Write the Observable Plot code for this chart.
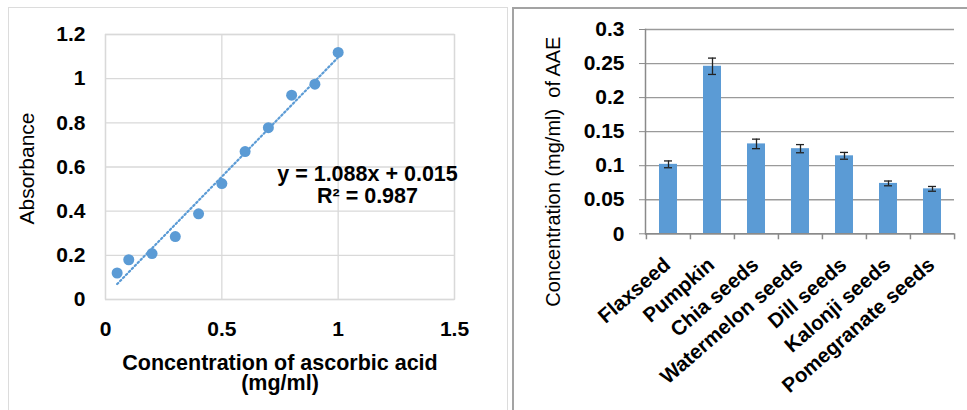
<!DOCTYPE html>
<html>
<head>
<meta charset="utf-8">
<script src="https://cdn.jsdelivr.net/npm/d3@7"></script>
<script src="https://cdn.jsdelivr.net/npm/@observablehq/plot@0.6"></script>
<style>
  html, body { margin: 0; padding: 0; background: #fff; }
  body { width: 967px; height: 410px; position: relative; overflow: hidden; font-family: "Liberation Sans", Arial, sans-serif; }
  .panel { position: absolute; box-sizing: border-box; }
  #leftBox { left: 8px; top: 7px; width: 500px; height: 420px; border: 1px solid #dcdcdc; border-bottom: none; }
  #rightBox { left: 512px; top: 7px; width: 470px; height: 420px; border-left: 2px solid #a3a3a3; border-top: 2px solid #a3a3a3; }
  #left, #right { position: absolute; top: 0; }
  #left { left: 0; }
  #right { left: 513px; }
  svg g[aria-label="x-axis tick label"] text, svg g[aria-label="y-axis tick label"] text { font-weight: bold; }
</style>
</head>
<body>
<div class="panel" id="leftBox"></div>
<div class="panel" id="rightBox"></div>
<div id="left"></div>
<div id="right"></div>
<script>
// ---- Left chart data: calibration curve ----
const concentration = [0.05, 0.1, 0.2, 0.3, 0.4, 0.5, 0.6, 0.7, 0.8, 0.9, 1.0];
const absorbance = [0.12, 0.18, 0.208, 0.285, 0.388, 0.525, 0.67, 0.778, 0.925, 0.975, 1.119];
const xTicksLeft = [0, 0.5, 1, 1.5];
const yTicksLeft = [0, 0.2, 0.4, 0.6, 0.8, 1, 1.2];
const equationLines = ["y = 1.088x + 0.015", "R² = 0.987"];
const xTitleLeft = ["Concentration of ascorbic acid", "(mg/ml)"];
const yTitleLeft = "Absorbance";

// ---- Right chart data: seeds ----
const seeds = ["Flaxseed", "Pumpkin", "Chia seeds", "Watermelon seeds", "Dill seeds", "Kalonji seeds", "Pomegranate seeds"];
const aae = [0.102, 0.246, 0.132, 0.125, 0.1145, 0.074, 0.066];
const aaeErr = [0.005, 0.012, 0.007, 0.006, 0.005, 0.0035, 0.0035];
const yTicksRight = [0, 0.05, 0.1, 0.15, 0.2, 0.25, 0.3];
const yTitleRight = "Concentration (mg/ml)  of AAE";

const blue = "#5b9bd5";
const fmt = d => String(+d.toFixed(2));

const points = concentration.map((c, i) => ({c, a: absorbance[i]}));

const W1 = 505, H = 410;
const left = Plot.plot({
  width: W1, height: H,
  marginLeft: 105, marginRight: 51, marginTop: 34, marginBottom: 111,
  style: {fontFamily: "'Liberation Sans', Arial, sans-serif", fontSize: "21px", background: "transparent", overflow: "visible", color: "#000"},
  x: {domain: [0, 1.5]},
  y: {domain: [0, 1.2]},
  marks: [
    Plot.gridX(xTicksLeft, {stroke: "#d9d9d9", strokeOpacity: 1, strokeWidth: 1.3}),
    Plot.gridY(yTicksLeft, {stroke: "#d9d9d9", strokeOpacity: 1, strokeWidth: 1.3}),
    Plot.frame({stroke: "#d9d9d9", strokeWidth: 1.3}),
    Plot.axisX(xTicksLeft, {tickSize: 0, tickPadding: 22, tickFormat: fmt, label: null, fontWeight: "bold", fontSize: 21}),
    Plot.axisY(yTicksLeft, {tickSize: 0, tickPadding: 20, tickFormat: fmt, label: null, fontWeight: "bold", fontSize: 21}),
    Plot.linearRegressionY(points, {x: "c", y: "a", stroke: blue, strokeWidth: 2.2, strokeDasharray: "1.6,2.6", ci: 0}),
    Plot.dot(points, {x: "c", y: "a", r: 5.5, fill: blue}),
    Plot.text([equationLines.join("\n")], {frameAnchor: "top-right", dx: -87, dy: 131, textAnchor: "middle", lineAnchor: "top", lineHeight: 1.03, fontWeight: "bold", fontSize: 21.5}),
    Plot.text([xTitleLeft.join("\n")], {frameAnchor: "bottom", dy: 56.5, textAnchor: "middle", lineAnchor: "top", lineHeight: 0.93, fontWeight: "bold", fontSize: 21.5}),
    Plot.text([yTitleLeft], {frameAnchor: "left", rotate: -90, dx: -78, dy: 1.5, textAnchor: "middle", fontSize: 21})
  ]
});
document.getElementById("left").append(left);

const rows = seeds.map((s, i) => ({s, v: aae[i], e: aaeErr[i]}));
const W2 = 454, mL2 = 132, mR2 = 13, mT2 = 29, mB2 = 176.7;
const step = (W2 - mL2 - mR2) / seeds.length;
const right = Plot.plot({
  width: W2, height: H,
  marginLeft: mL2, marginRight: mR2, marginTop: mT2, marginBottom: mB2,
  style: {fontFamily: "'Liberation Sans', Arial, sans-serif", fontSize: "21px", background: "transparent", overflow: "visible", color: "#000"},
  x: {domain: seeds, paddingInner: 0.6, paddingOuter: 0.3, align: 0.5},
  y: {domain: [0, 0.3]},
  marks: [
    Plot.gridY(yTicksRight, {stroke: "#9a9a9a", strokeOpacity: 1, strokeWidth: 1.3}),
    Plot.barY(rows, {x: "s", y: "v", fill: blue}),
    Plot.ruleX(rows, {x: "s", y1: d => d.v - d.e, y2: d => d.v + d.e, stroke: "#222", strokeWidth: 1.3}),
    Plot.tickY(rows, {x: "s", y: d => d.v + d.e, stroke: "#222", strokeWidth: 1.3, insetLeft: 5, insetRight: 5}),
    Plot.tickY(rows, {x: "s", y: d => d.v - d.e, stroke: "#222", strokeWidth: 1.3, insetLeft: 5, insetRight: 5}),
    Plot.ruleY([0], {stroke: "#8a8a8a", strokeWidth: 1.5}),
    Plot.frame({anchor: "left", stroke: "#8a8a8a", strokeWidth: 1.5}),
    Plot.axisY(yTicksRight, {tickSize: 6, tickPadding: 15, tickFormat: fmt, label: null, stroke: "#8a8a8a", fontWeight: "bold", fontSize: 21}),
    Plot.axisX(seeds, {tickSize: 6, text: null, label: null, dx: -step / 2, stroke: "#8a8a8a", strokeWidth: 1.5}),
    Plot.axisX([seeds[seeds.length - 1]], {tickSize: 6, text: null, label: null, dx: step / 2, stroke: "#8a8a8a", strokeWidth: 1.5}),
    Plot.text(seeds, {x: d => d, frameAnchor: "bottom", rotate: -41, textAnchor: "end", lineAnchor: "middle", dx: -1, dy: 28, fontWeight: "bold", fontSize: 20.5}),
    Plot.text([yTitleRight], {frameAnchor: "left", rotate: -90, dx: -92, dy: 40, textAnchor: "middle", fontSize: 20})
  ]
});
document.getElementById("right").append(right);
</script>
</body>
</html>
